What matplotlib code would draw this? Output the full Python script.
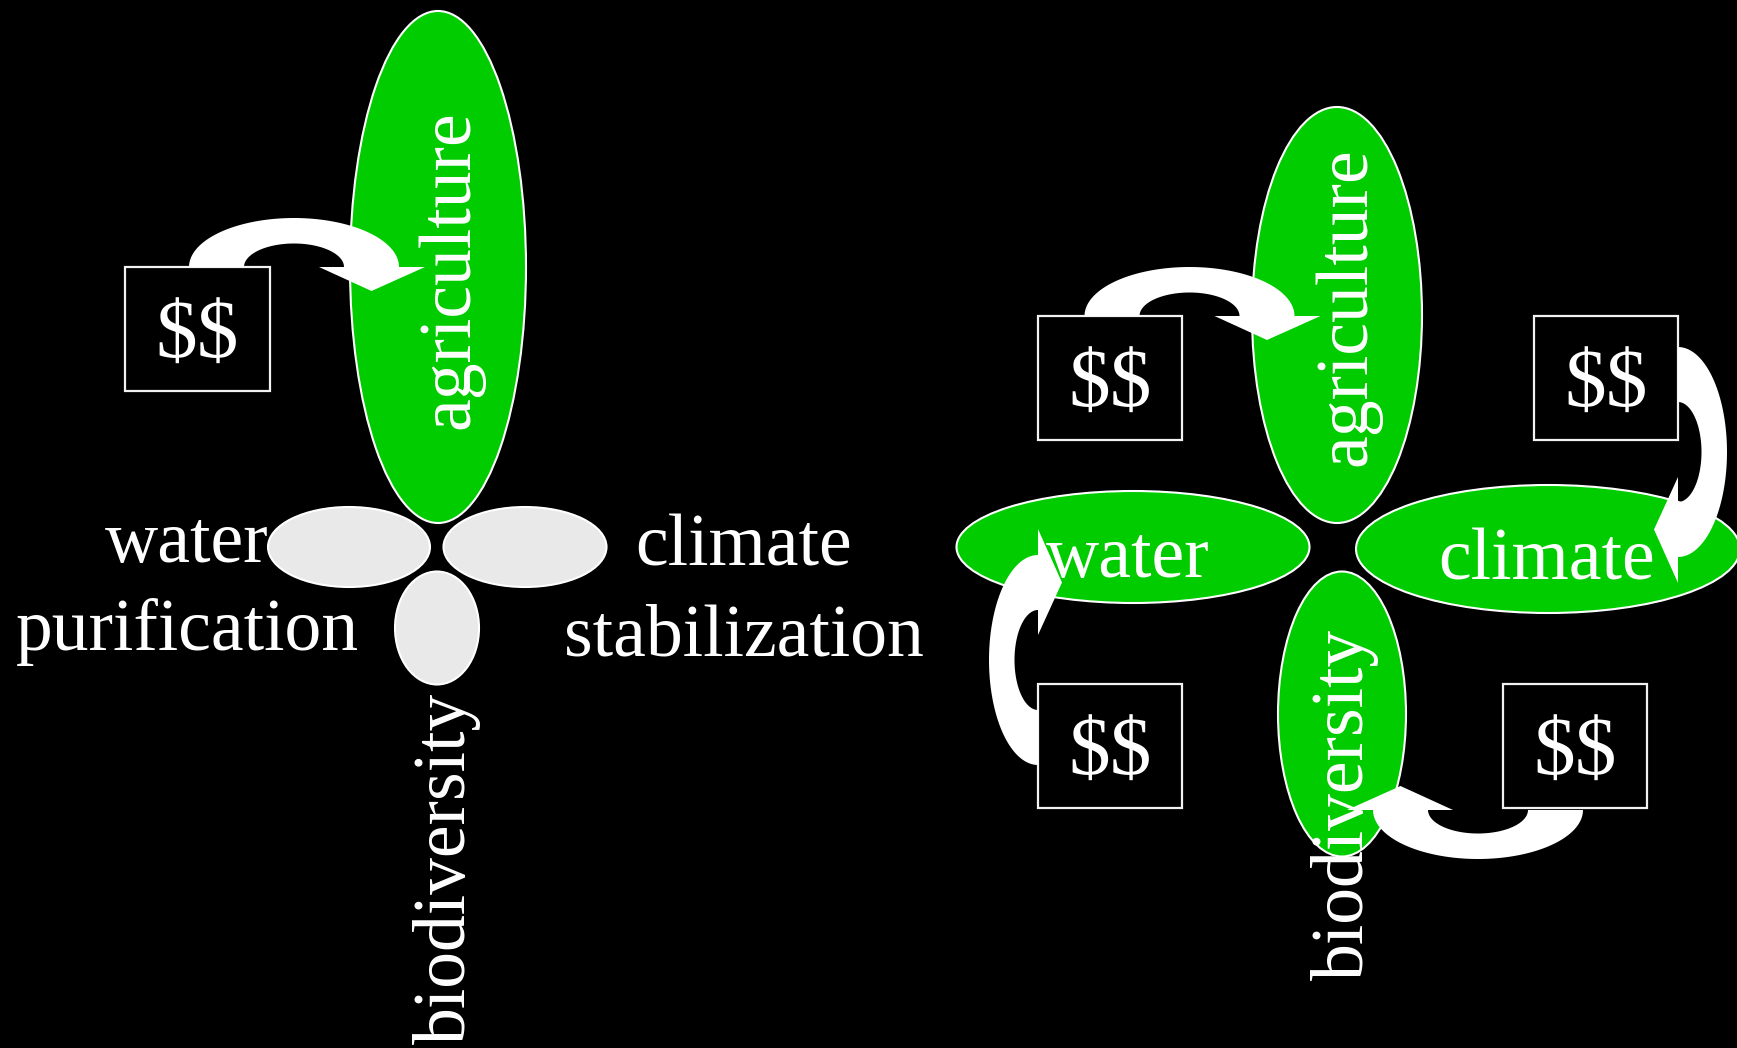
import numpy as np
import matplotlib
matplotlib.use("Agg")
import matplotlib.pyplot as plt
from matplotlib.patches import Ellipse, Rectangle, Polygon

plt.rcParams['font.family'] = ['Liberation Serif', 'DejaVu Serif']
plt.rcParams['text.parse_math'] = False

W, H = 1737, 1048
GREEN = '#00cc00'
GRAY = '#e9e9e9'
WHITE = 'white'

# ---- content -------------------------------------------------------------
services = ['agriculture', 'water', 'climate', 'biodiversity']
money_label = '$$'
left_labels = ['water\npurification', 'climate\nstabilization']

# ---- layout (pixel coordinates, y downwards) -------------------------------
# ellipses: (cx, cy, width, height, color)
left_ellipses = [
    (438, 267, 176, 512, GREEN),      # agriculture
    (349, 547, 162, 80, GRAY),        # water
    (525, 547, 163, 80, GRAY),        # climate
    (437, 628, 84, 113, GRAY),        # biodiversity
]
right_ellipses = [
    (1337, 315, 170, 416, GREEN),     # agriculture
    (1133, 547, 353, 112, GREEN),     # water
    (1548, 549, 384, 128, GREEN),     # climate
    (1342, 714, 128, 285, GREEN),     # biodiversity
]
# boxes: (x0, y0, w, h)
boxes = [
    (125, 267, 145, 124),
    (1038, 316, 144, 124),
    (1534, 316, 144, 124),
    (1038, 684, 144, 124),
    (1503, 684, 144, 124),
]
# curved arrows: (cx, cy on base line, orientation)
arrows = [
    (294, 267, 'up'),
    (1189.5, 316, 'up'),
    (1678, 452, 'right'),
    (1038, 660, 'left'),
    (1478, 810, 'down'),
]

fig = plt.figure(figsize=(W / 100, H / 100), dpi=100, facecolor='black')
ax = fig.add_axes([0, 0, 1, 1])
ax.set_facecolor('black')
ax.set_xlim(0, W)
ax.set_ylim(H, 0)
ax.set_aspect('equal')
ax.axis('off')

for i, (cx, cy, w, h, c) in enumerate(left_ellipses):
    ax.add_patch(Ellipse((cx, cy), w, h, facecolor=c, edgecolor=WHITE,
                         lw=1.5, zorder=2 + (i > 0)))
for cx, cy, w, h, c in right_ellipses:
    ax.add_patch(Ellipse((cx, cy), w, h, facecolor=c, edgecolor=WHITE,
                         lw=1.5, zorder=2))

for x0, y0, w, h in boxes:
    ax.add_patch(Rectangle((x0, y0), w, h, facecolor='black',
                           edgecolor='#f2f2f2', lw=1.6, zorder=4))
    ax.text(x0 + w / 2, y0 + h / 2 + 29, money_label, color=WHITE,
            fontsize=60, ha='center', va='baseline', zorder=6)

# arrow shape in local coordinates
AO, BO = 105, 49
AI, BI = 50, 23.5
t_out = np.linspace(np.pi, 0, 80)
t_in = np.linspace(0, np.pi, 80)
u = np.concatenate([AO * np.cos(t_out), [131, 77.5, 25], AI * np.cos(t_in)])
v = np.concatenate([-BO * np.sin(t_out), [0, 24, 0], -BI * np.sin(t_in)])

for cx, cy, o in arrows:
    if o == 'up':
        xs, ys = cx + u, cy + v
    elif o == 'right':
        xs, ys = cx - v, cy + u
    elif o == 'left':
        xs, ys = cx + v, cy - u
    else:
        xs, ys = cx - u, cy - v
    ax.add_patch(Polygon(np.column_stack([xs, ys]), closed=True,
                         facecolor=WHITE, edgecolor='none', zorder=5))

FS = 53
txt = dict(color=WHITE, fontsize=FS, zorder=7)
# left panel
ax.text(468, 270, services[0], rotation=90, rotation_mode='anchor',
        ha='center', va='baseline', **txt)
ax.text(465, 868, services[3], rotation=90, rotation_mode='anchor',
        ha='center', va='baseline', **txt)
wl, pl = left_labels[0].split('\n')
cl, sl = left_labels[1].split('\n')
ax.text(187, 562, wl, ha='center', va='baseline', **txt)
ax.text(187, 650, pl, ha='center', va='baseline', **txt)
ax.text(744, 565, cl, ha='center', va='baseline', **txt)
ax.text(744, 656, sl, ha='center', va='baseline', **txt)
# right panel
ax.text(1365, 307, services[0], rotation=90, rotation_mode='anchor',
        ha='center', va='baseline', **txt)
ax.text(1363, 804, services[3], rotation=90, rotation_mode='anchor',
        ha='center', va='baseline', **txt)
ax.text(1128, 577, services[1], ha='center', va='baseline', **txt)
ax.text(1547, 580, services[2], ha='center', va='baseline', **txt)

fig.savefig('out.png', dpi=100, facecolor='black')
